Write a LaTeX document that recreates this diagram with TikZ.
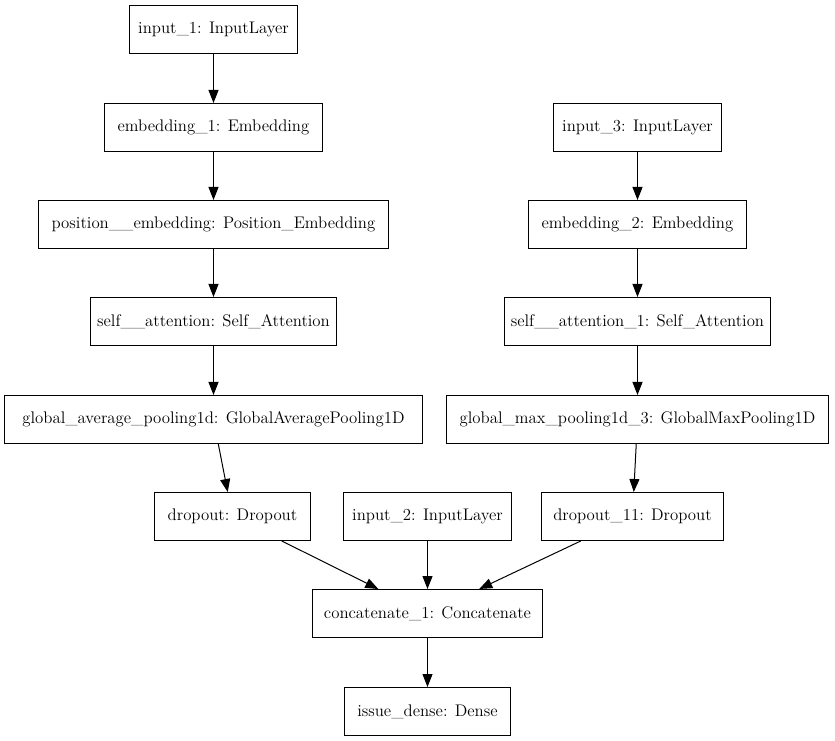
\documentclass[tikz,border=0pt]{standalone}
\usetikzlibrary{arrows.meta}

\begin{document}
\begin{tikzpicture}[x=.75pt,y=-.75pt,line width=.75pt,
  layer/.style={draw,line width=.75pt,minimum height=36pt,inner sep=0pt,font=\fontsize{12.6}{15}\selectfont},
  flow/.style={-{Triangle[length=9.75pt,width=7.5pt]},line width=.75pt}]
\path[use as bounding box] (0,0) rectangle (835,741);
% left branch
\node[layer,minimum width=126pt] (in1) at (213.5,29.5) {input\_1: InputLayer};
\node[layer,minimum width=163.5pt] (emb1) at (213.5,127.5) {embedding\_1: Embedding};
\node[layer,minimum width=262.5pt] (posemb) at (213.5,224.5) {position\_\_embedding: Position\_Embedding};
\node[layer,minimum width=184.5pt] (satt) at (213.5,321.5) {self\_\_attention: Self\_Attention};
\node[layer,minimum width=313.5pt] (gap) at (213.5,419.5) {global\_average\_pooling1d: GlobalAveragePooling1D};
\node[layer,minimum width=117pt] (drop) at (232.5,516.5) {dropout: Dropout};
% right branch
\node[layer,minimum width=126pt] (in3) at (637.5,127.5) {input\_3: InputLayer};
\node[layer,minimum width=163.5pt] (emb2) at (637.5,224.5) {embedding\_2: Embedding};
\node[layer,minimum width=199.5pt] (satt1) at (637.5,321.5) {self\_\_attention\_1: Self\_Attention};
\node[layer,minimum width=286.5pt] (gmp) at (637.5,419.5) {global\_max\_pooling1d\_3: GlobalMaxPooling1D};
\node[layer,minimum width=136.5pt] (drop11) at (632.5,516.5) {dropout\_11: Dropout};
% merge
\node[layer,minimum width=126pt] (in2) at (427.5,516.5) {input\_2: InputLayer};
\node[layer,minimum width=172.5pt] (concat) at (427.5,613.5) {concatenate\_1: Concatenate};
\node[layer,minimum width=124.5pt] (dense) at (427.5,711.5) {issue\_dense: Dense};
% edges
\draw[flow] (in1) -- (emb1);
\draw[flow] (emb1) -- (posemb);
\draw[flow] (posemb) -- (satt);
\draw[flow] (satt) -- (gap);
\draw[flow] (gap) -- (drop);
\draw[flow] (in3) -- (emb2);
\draw[flow] (emb2) -- (satt1);
\draw[flow] (satt1) -- (gmp);
\draw[flow] (gmp) -- (drop11);
\draw[flow] (drop) -- (concat);
\draw[flow] (in2) -- (concat);
\draw[flow] (drop11) -- (concat);
\draw[flow] (concat) -- (dense);
\end{tikzpicture}
\end{document}
